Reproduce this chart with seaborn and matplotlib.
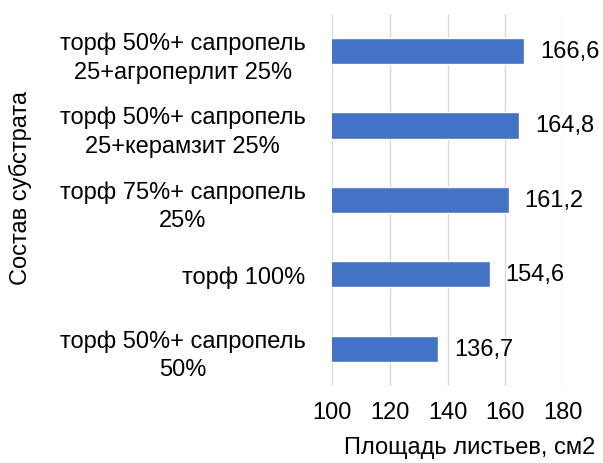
import matplotlib
matplotlib.use('Agg')
import matplotlib.pyplot as plt
import seaborn as sns
import pandas as pd

# data
categories = [
    'торф 50%+ сапропель\n25+агроперлит 25%',
    'торф 50%+ сапропель\n25+керамзит 25%',
    'торф 75%+ сапропель\n25%',
    'торф 100%',
    'торф 50%+ сапропель\n50%',
]
values = [166.6, 164.8, 161.2, 154.6, 136.7]
value_labels = ['166,6', '164,8', '161,2', '154,6', '136,7']
x_ticks = [100, 120, 140, 160, 180]

df = pd.DataFrame({'cat': categories, 'val': values})

sns.set_style('white')
plt.rcParams['font.family'] = ['Liberation Sans', 'DejaVu Sans']
plt.rcParams['text.color'] = 'black'
plt.rcParams['axes.labelcolor'] = 'black'

fig = plt.figure(figsize=(6.03, 4.64), dpi=100)
ax = fig.add_axes([0.5506, 0.166, 0.3831, 0.802])

sns.barplot(data=df, y='cat', x='val', orient='h', color='#4472C4',
            saturation=1, width=0.35, ax=ax)

ax.set_xlim(100, 180)
ax.set_xticks(x_ticks)
ax.set_ylim(4.5, -0.5)
ax.xaxis.grid(True, color='#d9d9d9', linewidth=1)
ax.set_axisbelow(True)
for s in ax.spines.values():
    s.set_visible(False)

fs = 17
ax.tick_params(axis='x', labelsize=fs, length=0, pad=11, colors='black')
ax.tick_params(axis='y', labelsize=fs, length=0, pad=19, colors='black')
for t in ax.get_yticklabels():
    t.set_multialignment('center')
    t.set_linespacing(1.4)

for i, (v, lab) in enumerate(zip(values, value_labels)):
    ax.annotate(lab, xy=(v, i), xytext=(11.5, 0), textcoords='offset points',
                va='center', ha='left', fontsize=fs, annotation_clip=False)

ax.set_xlabel('Площадь листьев, см2', fontsize=fs)
ax.xaxis.set_label_coords(0.597, -0.164)
ax.xaxis.label.set_va('center')
ax.set_ylabel('Состав субстрата', fontsize=fs)
ax.yaxis.set_label_coords(-1.35, 0.535)
ax.yaxis.label.set_va('center')

fig.savefig('out.png', dpi=100)
